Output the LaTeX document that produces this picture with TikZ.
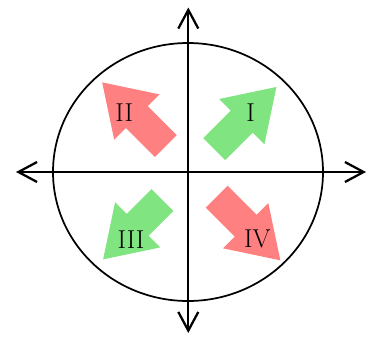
\documentclass[tikz,border=0pt]{standalone}
\usetikzlibrary{arrows.meta, shapes.geometric}

\definecolor{posgreen}{RGB}{128,228,128}
\definecolor{negred}{RGB}{255,128,128}

% block arrow: colour, tail centre, angle, length (all in px units)
\newcommand{\quadarrow}[4]{%
  \begin{scope}[shift={(#2)}, rotate=#3]
    \fill[#1] (0,-15.5) -- ({#4-49},-15.5) -- ({#4-49},-32) -- (#4,0)
      -- ({#4-49},32) -- ({#4-49},15.5) -- (0,15.5) -- cycle;
  \end{scope}}

\begin{document}
\begin{tikzpicture}[x=0.75pt, y=-0.75pt,
  axis/.style={line width=1.7pt, {Straight Barb[length=14pt, width=15pt]}-{Straight Barb[length=14pt, width=15pt]}},
  quadlabel/.style={font=\fontsize{19.4pt}{23pt}\selectfont, inner sep=0pt}]

  \useasboundingbox (0,0) rectangle (370,336);

  \node[draw, ellipse, line width=1.3pt, minimum width=202.5pt, minimum height=193.5pt] (circ) at (188,172) {};

  \quadarrow{posgreen}{214.2,149.2}{45}{88}
  \quadarrow{negred}{165.8,146}{135}{90}
  \quadarrow{posgreen}{162.5,200}{225}{84}
  \quadarrow{negred}{216.7,196.7}{-45}{90}

  \coordinate (west) at (16,172);
  \coordinate (east) at (366,172);
  \coordinate (north) at (188.3,7.5);
  \coordinate (south) at (188.3,333);
  \draw[axis] (west) -- (east);
  \draw[axis] (south) -- (north);

  \node[quadlabel] (qI) at (250.7,112.7) {I};
  \node[quadlabel] (qII) at (124.3,112.7) {II};
  \node[quadlabel] (qIII) at (131,239.3) {III};
  \node[quadlabel] (qIV) at (257.3,239.3) {IV};
\end{tikzpicture}
\end{document}
